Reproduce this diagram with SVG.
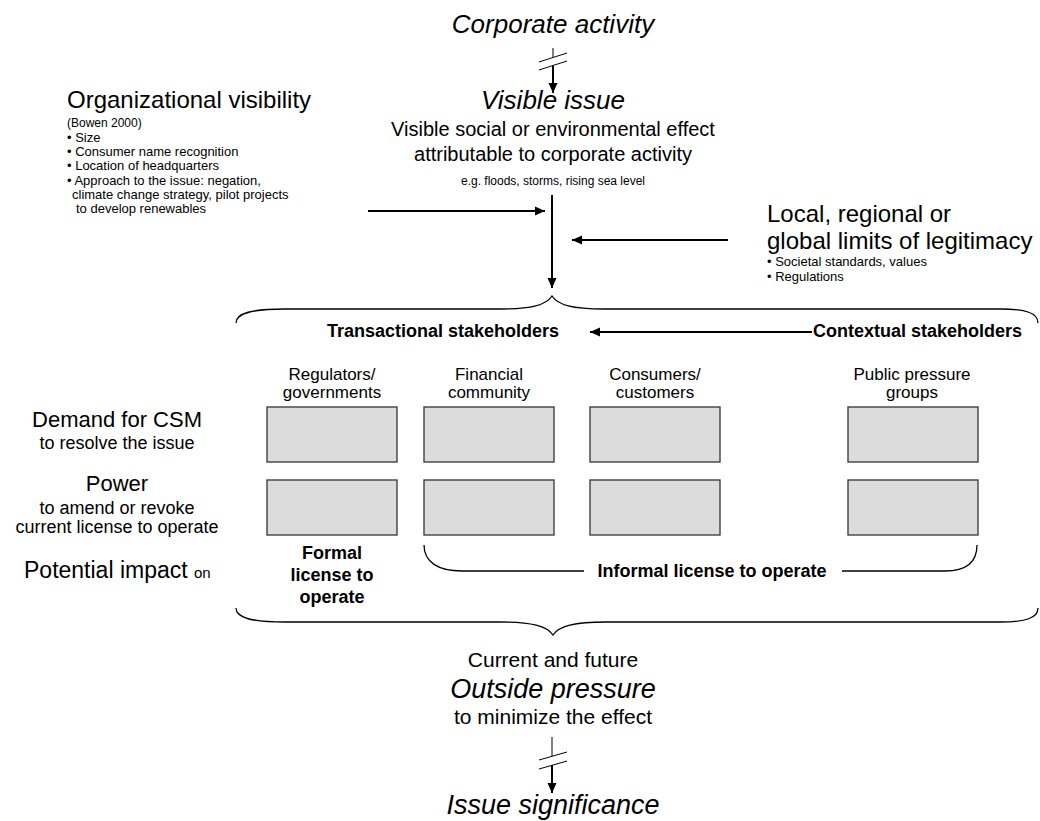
<svg xmlns="http://www.w3.org/2000/svg" width="1040" height="821" viewBox="0 0 1040 821">
  <defs>
    <marker id="head" markerUnits="userSpaceOnUse" markerWidth="10" markerHeight="10" refX="10" refY="5" orient="auto">
      <path d="M0,0.5 L10,5 L0,9.5 z" fill="#000"/>
    </marker>
    <style>
      text { font-family: "Liberation Sans", Arial, sans-serif; fill: #000; }
      .hd { font-size: 26px; font-style: italic; text-anchor: middle; }
      .sub { font-size: 20px; text-anchor: middle; }
      .big { font-size: 24px; }
      .sm { font-size: 13px; }
      .lab { font-size: 17px; text-anchor: middle; }
      .lft { font-size: 22px; text-anchor: middle; }
      .lfs { font-size: 18px; text-anchor: middle; }
      .bold { font-size: 18px; font-weight: bold; }
      .box { fill: #dcdcdc; stroke: #333; stroke-width: 1.3; }
      .arrow { stroke: #000; stroke-width: 2; fill: none; marker-end: url(#head); }
      .thin { stroke: #000; stroke-width: 1; fill: none; }
      .brace { stroke: #000; stroke-width: 1.3; fill: none; }
    </style>
  </defs>

  <!-- top chain: corporate activity to visible issue -->
  <g id="corporate-activity">
    <text class="hd" x="553" y="33">Corporate activity</text>
  </g>
  <g id="visible-issue">
    <text class="hd" x="553" y="109">Visible issue</text>
    <text class="sub" x="553" y="136">Visible social or environmental effect</text>
    <text class="sub" x="553" y="161">attributable to corporate activity</text>
    <text x="553" y="185" style="font-size:12px;text-anchor:middle">e.g. floods, storms, rising sea level</text>
  </g>

  <g id="organizational-visibility">
    <text class="big" x="67" y="108">Organizational visibility</text>
    <text x="67" y="127" style="font-size:12px">(Bowen 2000)</text>
    <text class="sm" x="67" y="142">• Size</text>
    <text class="sm" x="67" y="156">• Consumer name recognition</text>
    <text class="sm" x="67" y="170">• Location of headquarters</text>
    <text class="sm" x="67" y="185">• Approach to the issue: negation,</text>
    <text class="sm" x="72" y="199">climate change strategy, pilot projects</text>
    <text class="sm" x="76" y="213">to develop renewables</text>
  </g>

  <g id="limits-of-legitimacy">
    <text class="big" x="767" y="222">Local, regional or</text>
    <text class="big" x="767" y="249">global limits of legitimacy</text>
    <text class="sm" x="767" y="266">• Societal standards, values</text>
    <text class="sm" x="767" y="281">• Regulations</text>
  </g>

  <!-- stakeholder panel -->
  <g id="stakeholder-groups">
    <text class="bold" x="327" y="337">Transactional stakeholders</text>
    <text class="bold" x="1022" y="337" text-anchor="end">Contextual stakeholders</text>
  </g>

  <g id="row-labels">
    <text class="lft" x="117" y="427">Demand for CSM</text>
    <text class="lfs" x="117" y="449">to resolve the issue</text>
    <text class="lft" x="117" y="491">Power</text>
    <text class="lfs" x="117" y="514">to amend or revoke</text>
    <text class="lfs" x="117" y="533">current license to operate</text>
    <text x="24" y="578" style="font-size:23px">Potential impact <tspan style="font-size:15px">on</tspan></text>
  </g>

  <g id="regulators">
    <text class="lab" x="332" y="380">Regulators/</text>
    <text class="lab" x="332" y="398">governments</text>
    <rect class="box" x="267" y="407" width="130" height="55"/>
    <rect class="box" x="267" y="480" width="130" height="55"/>
  </g>
  <g id="financial-community">
    <text class="lab" x="489" y="380">Financial</text>
    <text class="lab" x="489" y="398">community</text>
    <rect class="box" x="424" y="407" width="130" height="55"/>
    <rect class="box" x="424" y="480" width="130" height="55"/>
  </g>
  <g id="consumers">
    <text class="lab" x="655" y="380">Consumers/</text>
    <text class="lab" x="655" y="398">customers</text>
    <rect class="box" x="590" y="407" width="130" height="55"/>
    <rect class="box" x="590" y="480" width="130" height="55"/>
  </g>
  <g id="public-pressure-groups">
    <text class="lab" x="912" y="380">Public pressure</text>
    <text class="lab" x="912" y="398">groups</text>
    <rect class="box" x="848" y="407" width="130" height="55"/>
    <rect class="box" x="848" y="480" width="130" height="55"/>
  </g>

  <g id="formal-license">
    <text class="bold" x="332" y="559" text-anchor="middle">Formal</text>
    <text class="bold" x="332" y="581" text-anchor="middle">license to</text>
    <text class="bold" x="332" y="603" text-anchor="middle">operate</text>
  </g>
  <g id="informal-license">
    <text class="bold" x="712" y="577" text-anchor="middle">Informal license to operate</text>
  </g>

  <!-- bottom chain -->
  <g id="outside-pressure">
    <text class="sub" x="553" y="667" style="font-size:21px">Current and future</text>
    <text class="hd" x="553" y="698" style="font-size:27px">Outside pressure</text>
    <text class="sub" x="553" y="724" style="font-size:21px">to minimize the effect</text>
  </g>
  <g id="issue-significance">
    <text class="hd" x="553" y="814" style="font-size:27px">Issue significance</text>
  </g>

  <g id="connectors">
    <!-- interrupted link at the top -->
    <line class="thin" x1="553" y1="48" x2="553" y2="57"/>
    <line class="thin" x1="539" y1="62" x2="567" y2="53"/>
    <line class="thin" x1="539" y1="70" x2="567" y2="61"/>
    <line class="arrow" x1="553" y1="66" x2="553" y2="93"/>

    <!-- influences on the issue -->
    <line class="arrow" x1="368" y1="211" x2="545" y2="211"/>
    <line class="arrow" x1="728" y1="240" x2="572" y2="240"/>
    <line class="arrow" x1="552" y1="195" x2="552" y2="288"/>

    <!-- top brace -->
    <path class="brace" d="M236,323 C236,313 252,309 285,309 L500,309 C532,309 546,305 552,296 C558,305 572,309 604,309 L1000,309 C1026,309 1038,313 1038,323"/>

    <!-- contextual to transactional -->
    <line class="arrow" x1="812" y1="332" x2="590" y2="332"/>

    <!-- informal license bracket -->
    <path class="brace" d="M424,545 C424,562 438,571 462,571 L584,571"/>
    <path class="brace" d="M842,571 L945,571 C966,571 977,562 977,545"/>

    <!-- bottom brace -->
    <path class="brace" d="M236,608 C236,618 252,622 285,622 L500,622 C532,622 547,626 553,635 C559,626 574,622 606,622 L1000,622 C1026,622 1038,618 1038,608"/>

    <!-- interrupted link at the bottom -->
    <line class="thin" x1="552" y1="737" x2="552" y2="756"/>
    <line class="thin" x1="539" y1="760" x2="567" y2="752"/>
    <line class="thin" x1="539" y1="769" x2="567" y2="761"/>
    <line class="arrow" x1="552" y1="765" x2="552" y2="793"/>
  </g>
</svg>
